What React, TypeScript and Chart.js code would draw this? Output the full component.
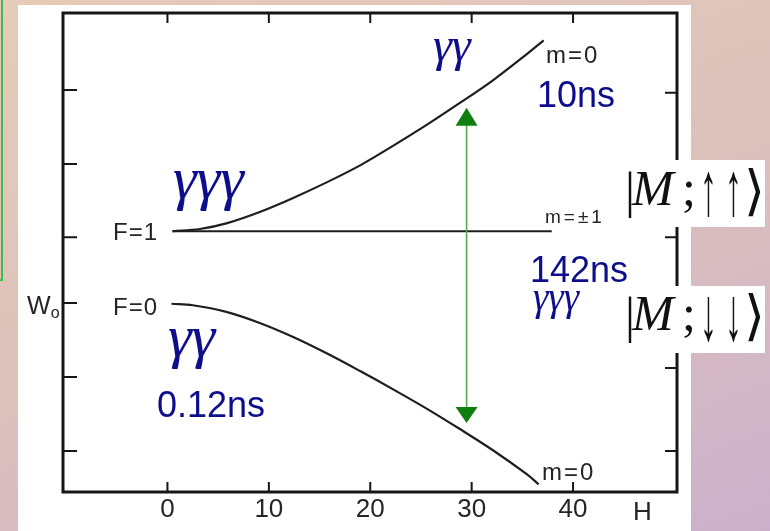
import { useEffect, useRef } from "react";
import { Chart, registerables } from "chart.js";
Chart.register(...registerables);

// ---- data (H field, W energy in tick units) ----
const H_UPPER = [0.5, 3.2, 5.9, 9.1, 12.4, 15.7, 19, 22.2, 25.6, 28.8, 32.1, 35.5, 37.1];
const W_UPPER = [0.97, 1.0, 1.08, 1.23, 1.42, 1.63, 1.86, 2.12, 2.41, 2.7, 3.01, 3.37, 3.55];
const H_FLAT = [0.5, 37.9];
const W_FLAT = [0.97, 0.97];
const H_LOWER = [0.4, 2.5, 5.8, 9.1, 12.4, 15.7, 19, 22.3, 25.6, 28.8, 32.1, 35.4, 36.6];
const W_LOWER = [-0.01, -0.03, -0.12, -0.27, -0.46, -0.68, -0.92, -1.17, -1.43, -1.7, -1.99, -2.31, -2.45];

const X_TICKS = [0, 10, 20, 30, 40];
const X_TICK_LABELS = ["0", "10", "20", "30", "40"];
const Y_TICKS_LEFT = [-2, -1, 0, 0.89, 1.88, 2.88];
const Y_TICKS_RIGHT = [-2, -0.88, 0, 0.89, 1.88, 2.84];
const X_MIN = -10.3;
const X_MAX = 50.25;
const Y_MIN = -2.554;
const Y_MAX = 3.919;

const ARROW_H = 29.5;
const ARROW_TOP = 2.64;
const ARROW_BOTTOM = -1.62;

type Note = { text: string; h: number; v: number; font: string; color: string; spacing?: number };
const INK = "#252525";
const BLUE = "#0e0e8c";
const NOTES: Note[] = [
  { text: "F=1", h: -5.37, v: 0.85, font: '24px "Liberation Sans"', color: INK, spacing: 1 },
  { text: "F=0", h: -5.37, v: -0.16, font: '24px "Liberation Sans"', color: INK, spacing: 1 },
  { text: "W", h: -13.86, v: -0.15, font: '25px "Liberation Sans"', color: INK },
  { text: "o", h: -11.5, v: -0.2, font: '16px "Liberation Sans"', color: INK },
  { text: "m=0", h: 37.33, v: 3.24, font: '24px "Liberation Sans"', color: INK, spacing: 2 },
  { text: "m=±1", h: 37.23, v: 1.08, font: '19px "Liberation Sans"', color: INK, spacing: 3 },
  { text: "m=0", h: 36.93, v: -2.39, font: '24px "Liberation Sans"', color: INK, spacing: 2 },
  { text: "H", h: 45.9, v: -2.93, font: '26px "Liberation Sans"', color: INK },
  { text: "γγ", h: 26.18, v: 3.27, font: 'italic 48px "Liberation Serif"', color: BLUE },
  { text: "10ns", h: 36.44, v: 2.65, font: '36px "Liberation Sans"', color: BLUE },
  { text: "γγγ", h: 0.54, v: 1.42, font: 'italic 60px "Liberation Serif"', color: BLUE },
  { text: "142ns", h: 35.75, v: 0.28, font: '36px "Liberation Sans"', color: BLUE },
  { text: "γγγ", h: 36.04, v: -0.09, font: 'italic 39px "Liberation Serif"', color: BLUE },
  { text: "γγ", h: 0.05, v: -0.72, font: 'italic 60px "Liberation Serif"', color: BLUE },
  { text: "0.12ns", h: -1.04, v: -1.54, font: '36px "Liberation Sans"', color: BLUE },
];

const framePlugin = {
  id: "frame",
  afterDatasetsDraw(chart: any) {
    const { ctx, scales } = chart;
    const x = scales.x, y = scales.y;
    const ax = x.getPixelForValue(ARROW_H);
    const y1 = y.getPixelForValue(ARROW_TOP);
    const y2 = y.getPixelForValue(ARROW_BOTTOM);
    ctx.save();
    ctx.strokeStyle = "#4fae4f";
    ctx.lineWidth = 1.6;
    ctx.beginPath();
    ctx.moveTo(ax, y1 + 10);
    ctx.lineTo(ax, y2 - 10);
    ctx.stroke();
    ctx.fillStyle = "#0f800f";
    ctx.beginPath();
    ctx.moveTo(ax, y1);
    ctx.lineTo(ax - 11, y1 + 18);
    ctx.lineTo(ax + 11, y1 + 18);
    ctx.closePath();
    ctx.fill();
    ctx.beginPath();
    ctx.moveTo(ax, y2);
    ctx.lineTo(ax - 11, y2 - 16);
    ctx.lineTo(ax + 11, y2 - 16);
    ctx.closePath();
    ctx.fill();
    ctx.restore();
  },
  afterDraw(chart: any) {
    const { ctx, chartArea: a, scales } = chart;
    const x = scales.x, y = scales.y;
    ctx.save();
    // frame
    ctx.strokeStyle = "#161616";
    ctx.lineWidth = 3;
    ctx.strokeRect(a.left, a.top, a.right - a.left, a.bottom - a.top);
    // inward ticks
    ctx.lineWidth = 2;
    ctx.beginPath();
    Y_TICKS_LEFT.forEach((v) => {
      const p = y.getPixelForValue(v);
      ctx.moveTo(a.left, p);
      ctx.lineTo(a.left + 14, p);
    });
    Y_TICKS_RIGHT.forEach((v) => {
      const p = y.getPixelForValue(v);
      ctx.moveTo(a.right, p);
      ctx.lineTo(a.right - 12, p);
    });
    X_TICKS.forEach((h) => {
      const p = x.getPixelForValue(h);
      ctx.moveTo(p, a.bottom);
      ctx.lineTo(p, a.bottom - 10);
      ctx.moveTo(p, a.top);
      ctx.lineTo(p, a.top + 10);
    });
    ctx.stroke();
    // tick labels
    ctx.fillStyle = INK;
    ctx.font = '26px "Liberation Sans"';
    ctx.textAlign = "center";
    ctx.textBaseline = "alphabetic";
    X_TICKS.forEach((h, i) => {
      ctx.fillText(X_TICK_LABELS[i], x.getPixelForValue(h), a.bottom + 25);
    });
    // notes
    ctx.textAlign = "left";
    NOTES.forEach((n) => {
      ctx.font = n.font;
      ctx.fillStyle = n.color;
      (ctx as any).letterSpacing = (n.spacing || 0) + "px";
      ctx.fillText(n.text, x.getPixelForValue(n.h), y.getPixelForValue(n.v));
    });
    (ctx as any).letterSpacing = "0px";

    // ket boxes (slide overlay)
    const drawKet = (top: number, base: number, arrow: string) => {
      ctx.fillStyle = "#ffffff";
      ctx.fillRect(621, top, 144, 67);
      ctx.fillStyle = "#111111";
      ctx.font = '50px "Liberation Serif"';
      ctx.fillText("|", 625, base + 2);
      ctx.font = 'italic 50px "Liberation Serif"';
      ctx.fillText("M", 632, base);
      ctx.font = '50px "Liberation Serif"';
      ctx.fillText(";", 682, base);
      ctx.font = '76px "Liberation Serif"';
      [700, 725].forEach((ax) => {
        ctx.save();
        ctx.translate(ax, base + 10);
        ctx.scale(0.45, 1);
        ctx.fillText(arrow, 0, 0);
        ctx.restore();
      });
      ctx.font = '54px "DejaVu Serif"';
      ctx.fillText("⟩", 744, base + 4);
    };
    drawKet(160, 205, "↑");
    drawKet(286, 330, "↓");
    ctx.restore();
  },
};

export default function App() {
  const ref = useRef<HTMLCanvasElement>(null);
  useEffect(() => {
    document.body.style.margin = "0";
    const mk = (hs: number[], ws: number[]) => hs.map((h, i) => ({ x: h, y: ws[i] }));
    const line = { borderColor: "#1e1e1e", borderWidth: 2.2, pointRadius: 0, tension: 0.35, fill: false };
    const chart = new Chart(ref.current!, {
      type: "line",
      data: {
        datasets: [
          { label: "m=0 (upper)", data: mk(H_UPPER, W_UPPER), ...line },
          { label: "m=±1", data: mk(H_FLAT, W_FLAT), ...line },
          { label: "m=0 (lower)", data: mk(H_LOWER, W_LOWER), ...line },
        ],
      },
      options: {
        animation: false,
        responsive: false,
        maintainAspectRatio: false,
        layout: { padding: { left: 63, top: 13, right: 93, bottom: 39 } },
        plugins: { legend: { display: false }, tooltip: { enabled: false } },
        scales: {
          x: { type: "linear", min: X_MIN, max: X_MAX, display: false },
          y: { type: "linear", min: Y_MIN, max: Y_MAX, display: false },
        },
      },
      plugins: [framePlugin],
    });
    return () => chart.destroy();
  }, []);

  return (
    <div
      style={{
        position: "fixed",
        left: 0,
        top: 0,
        width: 770,
        height: 531,
        overflow: "hidden",
        background: "linear-gradient(160deg, #e6cbb8 0%, #dcc1bc 50%, #cbb0cb 100%)",
      }}
    >
      <div style={{ position: "absolute", left: -20, top: -5, width: 23, height: 286, border: "2px solid #3dbb4d", boxSizing: "border-box" }} />
      <div style={{ position: "absolute", left: 18, top: 5, width: 673, height: 526, background: "#ffffff" }} />
      <canvas ref={ref} width={770} height={531} style={{ position: "absolute", left: 0, top: 0, width: 770, height: 531 }} />
    </div>
  );
}
